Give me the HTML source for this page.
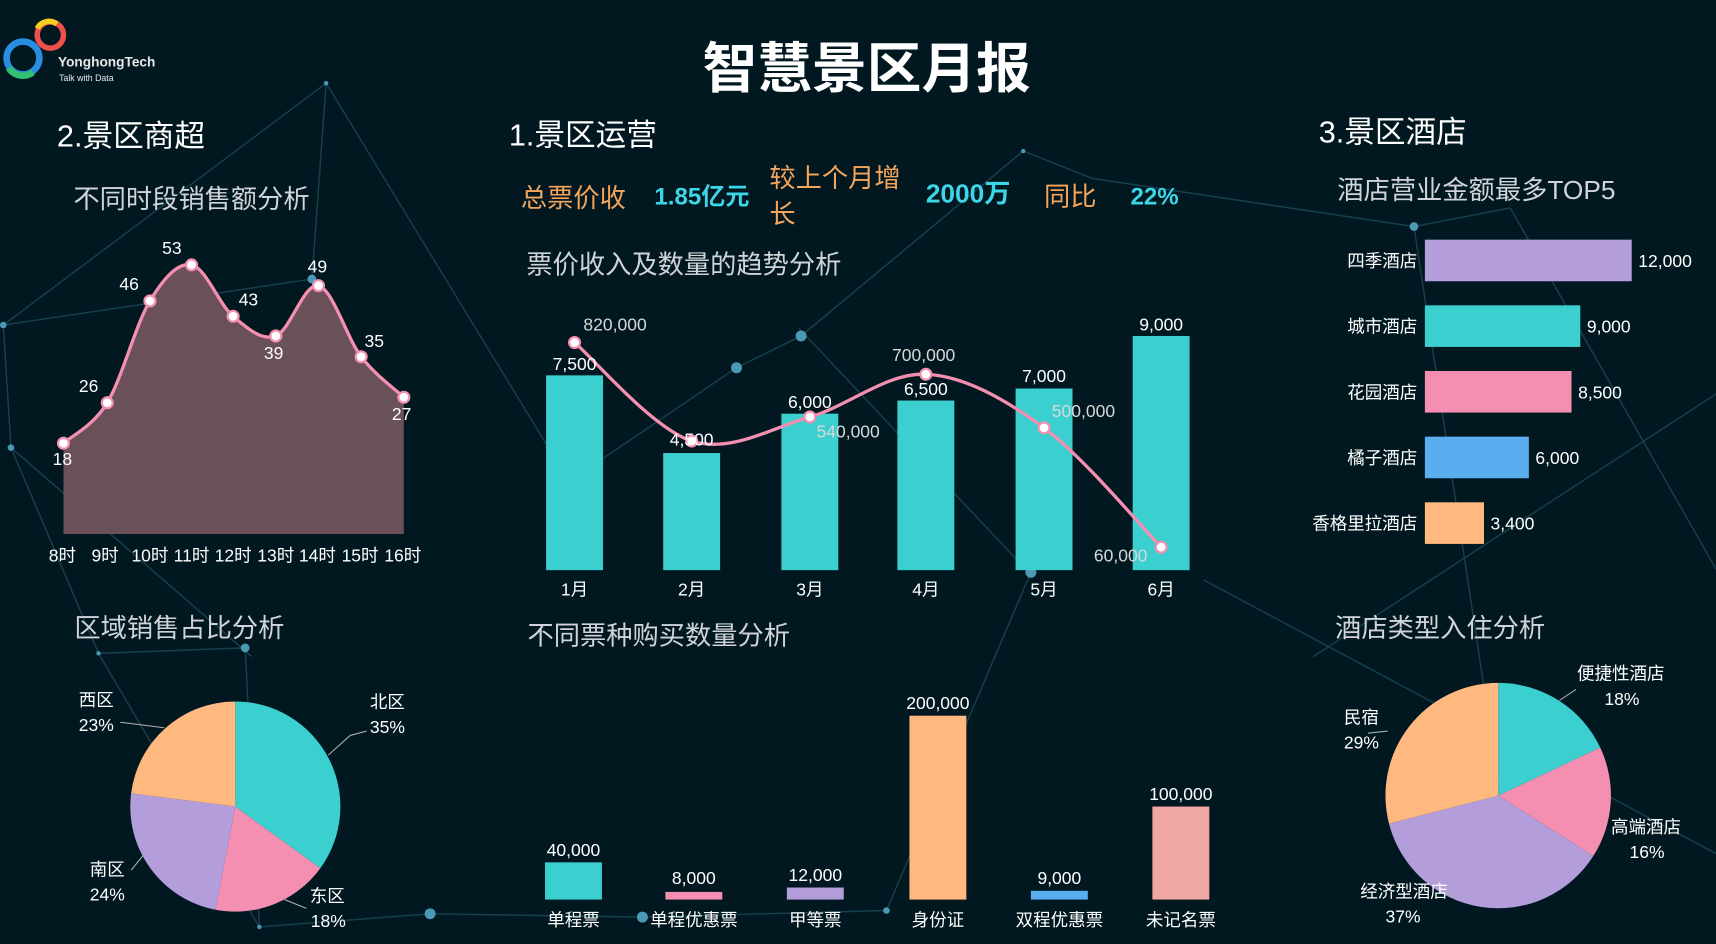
<!DOCTYPE html>
<html><head><meta charset="utf-8"><style>
html,body{margin:0;padding:0;background:#011821;overflow:hidden}
svg{display:block}
text{font-family:"Liberation Sans","Noto Sans CJK SC",sans-serif}
</style></head><body>
<svg width="1716" height="944" viewBox="0 0 1568 862.6" preserveAspectRatio="none" xmlns="http://www.w3.org/2000/svg">
<rect width="1568" height="863" fill="#011821"/>
<g stroke="#1d4a58" stroke-width="1.3" fill="none" opacity="0.8">
<path d="M298 76 L3 297 L10 409 L90 597 L224 592 L237 847"/>
<path d="M298 76 L285 255 L3 297"/>
<path d="M298 76 L520 440 L673 336 L732 307 L935 138 L998 163 L1292 207 L1380 190"/>
<path d="M10 409 L230 600 M90 597 L237 847 L393 835 L587 838 L810 832 L942 523"/>
<path d="M1380 190 L1568 520 M1292 207 L1370 720 M1100 530 L1568 780"/>
<path d="M940 523 L730 300 M1568 360 L1200 600"/>
</g>
<g fill="#4a9ab5">
<circle cx="298" cy="76" r="2"/><circle cx="3" cy="297" r="3"/><circle cx="10" cy="409" r="3"/><circle cx="285" cy="255" r="4"/><circle cx="673" cy="336" r="5"/><circle cx="732" cy="307" r="5"/><circle cx="935" cy="138" r="2"/><circle cx="1292" cy="207" r="4"/><circle cx="224" cy="592" r="4"/><circle cx="90" cy="597" r="2"/><circle cx="393" cy="835" r="5"/><circle cx="587" cy="838" r="5"/><circle cx="810" cy="832" r="3"/><circle cx="942" cy="523" r="5"/><circle cx="237" cy="847" r="2"/>
</g>
<!-- logo -->
<circle cx="21" cy="53" r="15" fill="none" stroke="#2a8ee0" stroke-width="6"/>
<circle cx="46" cy="32" r="12" fill="none" stroke="#f0504a" stroke-width="5"/>
<path d="M34 26 A12 12 0 0 1 52 22" stroke="#f5d020" stroke-width="5" fill="none"/>
<path d="M8 62 A15 15 0 0 0 30 66" stroke="#30c070" stroke-width="6" fill="none"/>
<text x="53" y="61" fill="#e8e8e8" font-size="12.5" font-weight="bold">YonghongTech</text>
<text x="54" y="74" fill="#e8e8e8" font-size="8">Talk with Data</text>
<text x="792" y="80" fill="#fff" font-size="50" font-weight="bold" text-anchor="middle">智慧景区月报</text>
<g fill="#fff" font-size="28">
<text x="52" y="134">2.景区商超</text><text x="465" y="133">1.景区运营</text><text x="1205" y="130">3.景区酒店</text>
</g>
<g fill="#d0d4d8" font-size="24">
<text x="67" y="190">不同时段销售额分析</text><text x="481" y="250">票价收入及数量的趋势分析</text><text x="1222" y="182">酒店营业金额最多TOP5</text>
<text x="68" y="582">区域销售占比分析</text><text x="482" y="589">不同票种购买数量分析</text><text x="1220" y="582">酒店类型入住分析</text>
</g>
<g font-size="24">
<text x="476" y="189" fill="#f5a55a">总票价收</text>
<text x="598" y="187" fill="#3dd6e8" font-size="22" font-weight="bold">1.85亿元</text>
<text x="703" y="171" fill="#f5a55a">较上个月增</text><text x="703" y="204" fill="#f5a55a">长</text>
<text x="846" y="185" fill="#3dd6e8" font-weight="bold">2000万</text>
<text x="954" y="188" fill="#f5a55a">同比</text>
<text x="1033" y="187" fill="#3dd6e8" font-weight="bold" font-size="22">22%</text>
</g>
<!-- area chart -->
<path d="M58 405 C64.7 398.8 84.8 389.7 98 368 C111.2 346.3 124.2 296 137 275 C149.8 254 162.3 239.7 175 242 C187.7 244.3 200.2 278.2 213 289 C225.8 299.8 239 311.7 252 307 C265 302.3 278 257.8 291 261 C304 264.2 317 309 330 326 C343 343 362.5 356.8 369 363 L369 488 L58 488 Z" fill="#6a5058"/>
<path d="M58 405 C64.7 398.8 84.8 389.7 98 368 C111.2 346.3 124.2 296 137 275 C149.8 254 162.3 239.7 175 242 C187.7 244.3 200.2 278.2 213 289 C225.8 299.8 239 311.7 252 307 C265 302.3 278 257.8 291 261 C304 264.2 317 309 330 326 C343 343 362.5 356.8 369 363" fill="none" stroke="#f48fb1" stroke-width="3"/>
<g fill="#fff" stroke="#f48fb1" stroke-width="2">
<circle cx="58" cy="405" r="5"/><circle cx="98" cy="368" r="5"/><circle cx="137" cy="275" r="5"/><circle cx="175" cy="242" r="5"/><circle cx="213" cy="289" r="5"/><circle cx="252" cy="307" r="5"/><circle cx="291" cy="261" r="5"/><circle cx="330" cy="326" r="5"/><circle cx="369" cy="363" r="5"/>
</g>
<g fill="#fff" font-size="16" text-anchor="middle">
<text x="57" y="425">18</text><text x="81" y="358">26</text><text x="118" y="265">46</text><text x="157" y="232">53</text><text x="227" y="279">43</text><text x="250" y="328">39</text><text x="290" y="249">49</text><text x="342" y="317">35</text><text x="367" y="384">27</text>
<text x="57" y="513">8时</text><text x="96" y="513">9时</text><text x="137" y="513">10时</text><text x="175" y="513">11时</text><text x="213" y="513">12时</text><text x="252" y="513">13时</text><text x="290" y="513">14时</text><text x="329" y="513">15时</text><text x="368" y="513">16时</text>
</g>
<!-- bar chart 1 -->
<g fill="#3ccfcf">
<rect x="499" y="343" width="52" height="178"/><rect x="606" y="414" width="52" height="107"/><rect x="714" y="378" width="52" height="143"/><rect x="820" y="366" width="52" height="155"/><rect x="928" y="355" width="52" height="166"/><rect x="1035" y="307" width="52" height="214"/>
</g>
<path d="M525 313 C542.8 328 596.2 391.7 632 403 C667.8 414.3 704.3 391.2 740 381 C775.7 370.8 810.3 340.3 846 342 C881.7 343.7 918.2 364.7 954 391 C989.8 417.3 1043.2 481.8 1061 500" fill="none" stroke="#f48fb1" stroke-width="3"/>
<g fill="#fff" stroke="#f48fb1" stroke-width="2">
<circle cx="525" cy="313" r="5"/><circle cx="632" cy="403" r="5"/><circle cx="740" cy="381" r="5"/><circle cx="846" cy="342" r="5"/><circle cx="954" cy="391" r="5"/><circle cx="1061" cy="500" r="5"/>
</g>
<g fill="#fff" font-size="16" text-anchor="middle">
<text x="525" y="338">7,500</text><text x="632" y="407">4,500</text><text x="740" y="373">6,000</text><text x="846" y="361">6,500</text><text x="954" y="349">7,000</text><text x="1061" y="302">9,000</text>
<text x="525" y="544">1月</text><text x="632" y="544">2月</text><text x="740" y="544">3月</text><text x="846" y="544">4月</text><text x="954" y="544">5月</text><text x="1061" y="544">6月</text>
</g>
<g fill="#d8d8d8" font-size="16" text-anchor="middle">
<text x="562" y="302">820,000</text><text x="775" y="400">540,000</text><text x="844" y="330">700,000</text><text x="990" y="381">500,000</text><text x="1024" y="513">60,000</text>
</g>
<!-- bar chart 2 -->
<rect x="498" y="788" width="52" height="34" fill="#3ccfcf"/>
<rect x="608" y="815" width="52" height="7" fill="#f48fb1"/>
<rect x="719" y="811" width="52" height="11" fill="#b39ddb"/>
<rect x="831" y="654" width="52" height="168" fill="#ffb980"/>
<rect x="942" y="814" width="52" height="8" fill="#5aaef0"/>
<rect x="1053" y="737" width="52" height="85" fill="#f0a8a4"/>
<g fill="#fff" font-size="16" text-anchor="middle">
<text x="524" y="782">40,000</text><text x="634" y="808">8,000</text><text x="745" y="805">12,000</text><text x="857" y="648">200,000</text><text x="968" y="808">9,000</text><text x="1079" y="731">100,000</text>
<text x="524" y="846">单程票</text><text x="634" y="846">单程优惠票</text><text x="745" y="846">甲等票</text><text x="857" y="846">身份证</text><text x="968" y="846">双程优惠票</text><text x="1079" y="846">未记名票</text>
</g>
<!-- hotel bars -->
<rect x="1302" y="219" width="189" height="38" fill="#b39ddb"/>
<rect x="1302" y="279" width="142" height="38" fill="#3ccfcf"/>
<rect x="1302" y="339" width="134" height="38" fill="#f48fb1"/>
<rect x="1302" y="399" width="95" height="38" fill="#5aaef0"/>
<rect x="1302" y="459" width="54" height="38" fill="#ffb980"/>
<g fill="#fff" font-size="16">
<g text-anchor="end"><text x="1295" y="244">四季酒店</text><text x="1295" y="304">城市酒店</text><text x="1295" y="364">花园酒店</text><text x="1295" y="424">橘子酒店</text><text x="1295" y="484">香格里拉酒店</text></g>
<text x="1497" y="244">12,000</text><text x="1450" y="304">9,000</text><text x="1442" y="364">8,500</text><text x="1403" y="424">6,000</text><text x="1362" y="484">3,400</text>
</g>
<!-- pie left -->
<path d="M215 737 L215 641 A96 96 0 0 1 292.7 793.4 Z" fill="#3ccfcf"/>
<path d="M215 737 L292.7 793.4 A96 96 0 0 1 197 831.3 Z" fill="#f48fb1"/>
<path d="M215 737 L197 831.3 A96 96 0 0 1 119.8 725 Z" fill="#b39ddb"/>
<path d="M215 737 L119.8 725 A96 96 0 0 1 215 641 Z" fill="#ffb980"/>
<g stroke="#aaa" fill="none" stroke-width="1"><path d="M300 690 L320 672 L335 668"/><path d="M260 822 L280 830"/><path d="M132 780 L120 795"/><path d="M150 665 L110 660"/></g>
<g fill="#fff" font-size="16">
<text x="338" y="647">北区</text><text x="338" y="670">35%</text>
<text x="283" y="824">东区</text><text x="284" y="847">18%</text>
<text x="82" y="800">南区</text><text x="82" y="823">24%</text>
<text x="72" y="645">西区</text><text x="72" y="668">23%</text>
</g>
<!-- pie right -->
<path d="M1369 727 L1369 624 A103 103 0 0 1 1462.2 683.1 Z" fill="#3ccfcf"/>
<path d="M1369 727 L1462.2 683.1 A103 103 0 0 1 1455.9 782.2 Z" fill="#f48fb1"/>
<path d="M1369 727 L1455.9 782.2 A103 103 0 0 1 1269.2 752.6 Z" fill="#b39ddb"/>
<path d="M1369 727 L1269.2 752.6 A103 103 0 0 1 1369 624 Z" fill="#ffb980"/>
<g stroke="#aaa" fill="none" stroke-width="1"><path d="M1425 640 L1440 630"/><path d="M1268 668 L1250 670"/><path d="M1330 820 L1320 815"/></g>
<g fill="#fff" font-size="16">
<text x="1441" y="621">便捷性酒店</text><text x="1466" y="644">18%</text>
<text x="1472" y="761">高端酒店</text><text x="1489" y="784">16%</text>
<text x="1243" y="820">经济型酒店</text><text x="1266" y="843">37%</text>
<text x="1228" y="661">民宿</text><text x="1228" y="684">29%</text>
</g>
</svg>
</body></html>
